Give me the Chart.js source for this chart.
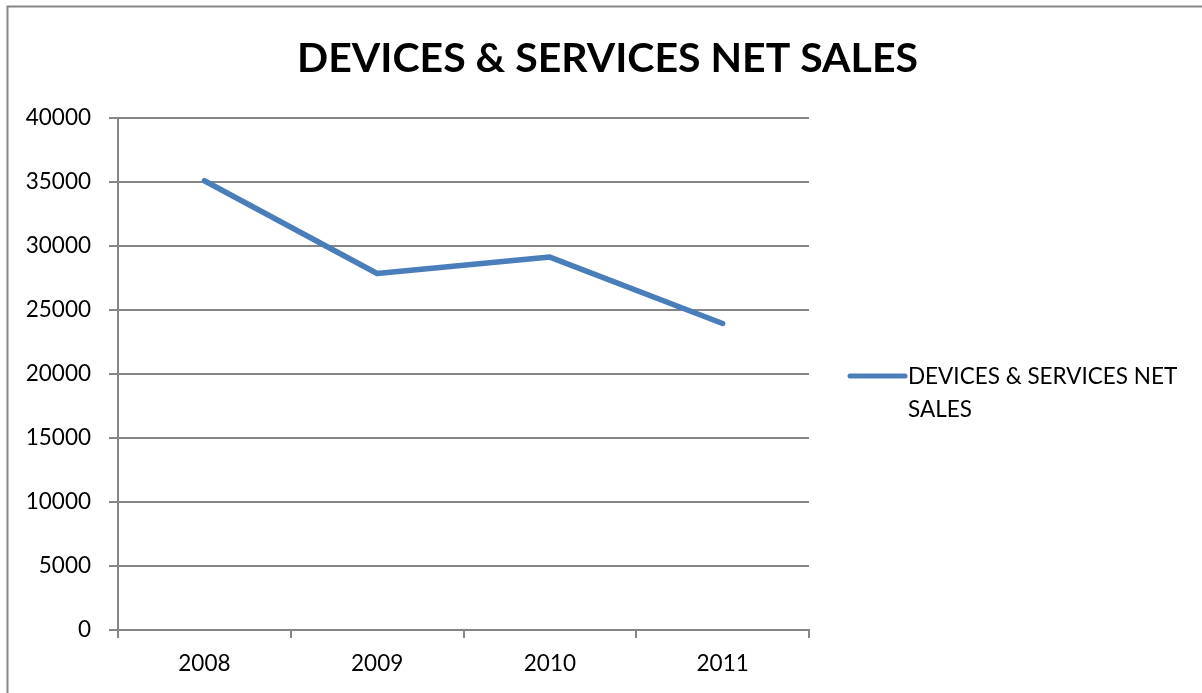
<!DOCTYPE html>
<html>
<head>
<meta charset="utf-8">
<script src="https://cdn.jsdelivr.net/npm/chart.js@4"></script>
<style>
  html, body { margin: 0; padding: 0; background: #ffffff; }
  canvas { display: block; }
</style>
</head>
<body>
<canvas id="c" width="1202" height="693"></canvas>
<script>
// Data
const years = ['2008', '2009', '2010', '2011'];
const netSales = [35099, 27853, 29134, 23943];
const seriesName = 'DEVICES & SERVICES NET SALES';
const chartTitle = 'DEVICES & SERVICES NET SALES';
const legendLines = ['DEVICES & SERVICES NET', 'SALES'];
const yTicks = [0, 5000, 10000, 15000, 20000, 25000, 30000, 35000, 40000];

const FONT = 'Lato, "Open Sans", "DejaVu Sans", sans-serif';
const GRID = '#868686';
const LINE = '#4A7EBB';

// Outer frame (left and top edges) behind everything
const framePlugin = {
  id: 'frame',
  beforeDraw(chart) {
    const ctx = chart.ctx;
    ctx.save();
    ctx.fillStyle = '#ffffff';
    ctx.fillRect(0, 0, chart.width, chart.height);
    ctx.strokeStyle = GRID;
    ctx.lineWidth = 2;
    ctx.beginPath();
    ctx.moveTo(7.5, chart.height);
    ctx.lineTo(7.5, 6.5);
    ctx.lineTo(chart.width, 6.5);
    ctx.stroke();
    ctx.restore();
  }
};

// Title and right-hand legend
const textPlugin = {
  id: 'texts',
  afterDraw(chart) {
    const ctx = chart.ctx;
    const area = chart.chartArea;
    const ds = chart.data.datasets[0];
    ctx.save();
    ctx.fillStyle = '#000000';
    ctx.font = 'bold 41px ' + FONT;
    ctx.textAlign = 'center';
    ctx.textBaseline = 'alphabetic';
    ctx.fillText(chartTitle, 607.5, 72);

    // legend swatch
    const ly = 376;
    ctx.strokeStyle = ds.borderColor;
    ctx.lineWidth = 5;
    ctx.lineCap = 'round';
    ctx.beginPath();
    ctx.moveTo(area.right + 41, ly);
    ctx.lineTo(area.right + 96, ly);
    ctx.stroke();

    ctx.font = '22.5px ' + FONT;
    ctx.textAlign = 'left';
    ctx.textBaseline = 'middle';
    legendLines.forEach((t, i) => ctx.fillText(t, area.right + 99, ly + 1 + i * 33));
    ctx.restore();
  }
};

new Chart(document.getElementById('c'), {
  type: 'line',
  data: {
    labels: years,
    datasets: [{
      label: seriesName,
      data: netSales,
      borderColor: LINE,
      backgroundColor: LINE,
      borderWidth: 5.5,
      borderCapStyle: 'round',
      borderJoinStyle: 'round',
      pointRadius: 0,
      pointHoverRadius: 0,
      tension: 0,
      fill: false
    }]
  },
  options: {
    responsive: false,
    animation: false,
    devicePixelRatio: 1,
    layout: { padding: { left: 8, top: 118, right: 393, bottom: 0 } },
    plugins: {
      legend: { display: false },
      title: { display: false },
      tooltip: { enabled: false }
    },
    scales: {
      x: {
        type: 'category',
        offset: true,
        afterFit(s) { s.height = 63; },
        grid: {
          offset: true,
          drawOnChartArea: false,
          drawTicks: true,
          tickLength: 8,
          color: GRID,
          lineWidth: 2
        },
        border: { display: true, color: GRID, width: 2 },
        ticks: {
          color: '#000000',
          font: { family: FONT, size: 22.5 },
          padding: 12,
          maxRotation: 0
        }
      },
      y: {
        min: 0,
        max: 40000,
        afterFit(s) { s.width = 110; },
        afterBuildTicks(s) { s.ticks = yTicks.map(v => ({ value: v })); },
        grid: {
          drawOnChartArea: true,
          drawTicks: true,
          tickLength: 9,
          color: GRID,
          lineWidth: 2
        },
        border: { display: true, color: GRID, width: 2 },
        ticks: {
          color: '#000000',
          font: { family: FONT, size: 22.5 },
          padding: 18,
          callback: v => String(v)
        }
      }
    }
  },
  plugins: [framePlugin, textPlugin]
});
</script>
</body>
</html>
